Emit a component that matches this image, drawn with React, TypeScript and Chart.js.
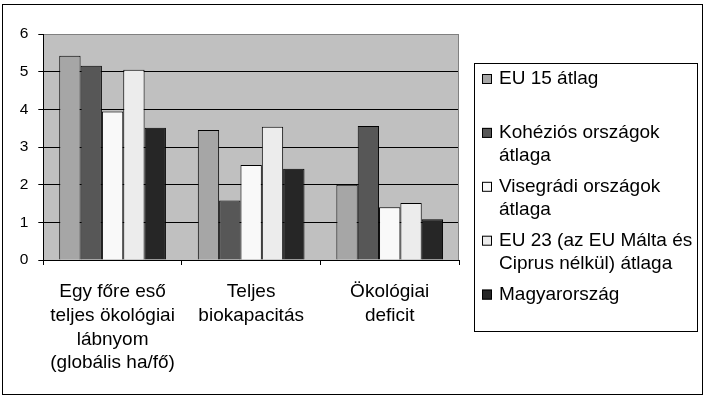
import React, { useEffect, useRef } from 'react';
import { Chart, registerables } from 'chart.js';

Chart.register(...registerables);

const categories: string[][] = [
  ['Egy főre eső', 'teljes ökológiai', 'lábnyom', '(globális ha/fő)'],
  ['Teljes', 'biokapacitás'],
  ['Ökológiai', 'deficit'],
];

const seriesNames: string[] = [
  'EU 15 átlag',
  'Kohéziós országok átlaga',
  'Visegrádi országok átlaga',
  'EU 23 (az EU Málta és Ciprus nélkül) átlaga',
  'Magyarország',
];

const legendLines: string[][] = [
  ['EU 15 átlag'],
  ['Kohéziós országok', 'átlaga'],
  ['Visegrádi országok', 'átlaga'],
  ['EU 23 (az EU Málta és', 'Ciprus nélkül) átlaga'],
  ['Magyarország'],
];

const eu15: number[] = [5.42, 3.45, 2.0];
const kohezios: number[] = [5.16, 1.58, 3.56];
const visegradi: number[] = [3.94, 2.52, 1.4];
const eu23: number[] = [5.05, 3.54, 1.51];
const magyar: number[] = [3.51, 2.42, 1.08];

const yMin = 0;
const yMax = 6;
const yStep = 1;

const seriesColors: string[] = ['#a6a6a6', '#575757', '#f9f9f9', '#ececec', '#262626'];

const FONT = '"Liberation Sans", Arial, sans-serif';

const framePlugin = {
  id: 'framePlugin',
  beforeDraw(chart: any) {
    const { ctx, chartArea } = chart;
    ctx.save();
    ctx.fillStyle = '#ffffff';
    ctx.fillRect(0, 0, chart.width, chart.height);
    ctx.fillStyle = '#c0c0c0';
    ctx.fillRect(chartArea.left, chartArea.top, chartArea.right - chartArea.left, chartArea.bottom - chartArea.top);
    ctx.restore();
  },
  afterDraw(chart: any) {
    const { ctx, chartArea } = chart;
    ctx.save();
    ctx.strokeStyle = '#808080';
    ctx.lineWidth = 1;
    ctx.beginPath();
    const rx = Math.round(chartArea.right) - 0.5;
    ctx.moveTo(rx, chartArea.top);
    ctx.lineTo(rx, chartArea.bottom);
    ctx.stroke();

    ctx.strokeStyle = '#000000';
    ctx.strokeRect(2.5, 4.5, 700, 390);
    ctx.strokeRect(474.5, 63.5, 223, 268);

    const ds = chart.data.datasets;
    ctx.font = `19px ${FONT}`;
    ctx.textBaseline = 'middle';
    ctx.textAlign = 'left';
    const firstY = 79;
    const pitch = 53.9;
    const lineH = 23.3;
    ds.forEach((d: any, i: number) => {
      const cy = firstY + i * pitch;
      ctx.fillStyle = d.backgroundColor;
      ctx.fillRect(482, cy - 5, 10, 10);
      ctx.strokeStyle = '#000000';
      ctx.strokeRect(482.5, cy - 4.5, 9, 9);
      ctx.fillStyle = '#000000';
      legendLines[i].forEach((line, j) => {
        ctx.fillText(line, 499, cy + j * lineH);
      });
    });
    ctx.restore();
  },
};

export default function App() {
  const canvasRef = useRef<HTMLCanvasElement | null>(null);

  useEffect(() => {
    if (!canvasRef.current) return;
    const seriesValues = [eu15, kohezios, visegradi, eu23, magyar];
    const chart = new Chart(canvasRef.current, {
      type: 'bar',
      data: {
        labels: categories as any,
        datasets: seriesValues.map((vals, i) => ({
          label: seriesNames[i],
          data: vals,
          backgroundColor: seriesColors[i],
          borderColor: '#000000',
          borderWidth: 1,
          categoryPercentage: 0.77,
          barPercentage: 1,
        })),
      },
      options: {
        responsive: false,
        animation: false,
        devicePixelRatio: 1,
        layout: { padding: { left: 20, top: 34, right: 246, bottom: 21 } },
        plugins: {
          legend: { display: false },
          tooltip: { enabled: false },
          title: { display: false },
        },
        scales: {
          x: {
            type: 'category',
            offset: true,
            grid: {
              offset: true,
              drawOnChartArea: false,
              drawTicks: true,
              tickLength: 5,
              color: '#000000',
              tickColor: '#000000',
            },
            border: { display: true, color: '#000000', width: 1 },
            ticks: {
              color: '#000000',
              padding: 15,
              maxRotation: 0,
              minRotation: 0,
              autoSkip: false,
              font: { family: FONT, size: 19, lineHeight: 1.25 },
            },
            afterFit: (s: any) => {
              s.height = 115;
              s.paddingLeft = 0;
              s.paddingRight = 0;
            },
          },
          y: {
            min: yMin,
            max: yMax,
            grid: {
              color: (c: any) => (c.tick && c.tick.value === yMax ? '#808080' : '#000000'),
              tickColor: '#000000',
              tickLength: 5,
              drawTicks: true,
            },
            border: { display: true, color: '#000000', width: 1 },
            ticks: {
              stepSize: yStep,
              autoSkip: false,
              color: '#000000',
              padding: 10,
              font: { family: FONT, size: 15.5 },
            },
            afterFit: (s: any) => {
              s.width = 23.3;
              s.paddingTop = 0;
              s.paddingBottom = 0;
            },
          },
        },
      },
      plugins: [framePlugin],
    });
    return () => chart.destroy();
  }, []);

  return (
    <div style={{ position: 'absolute', left: 0, top: 0, width: 705, height: 396, background: '#fff' }}>
      <canvas ref={canvasRef} width={705} height={396} style={{ width: 705, height: 396, display: 'block' }} />
    </div>
  );
}
